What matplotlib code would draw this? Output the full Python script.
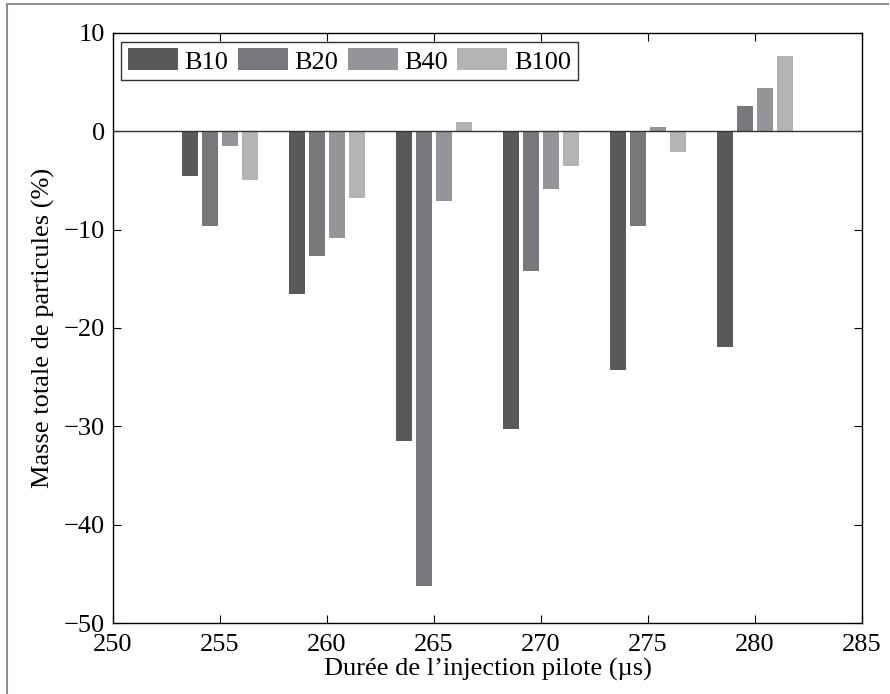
import matplotlib
matplotlib.use('Agg')
import matplotlib.pyplot as plt
import numpy as np

# Données
durees = [255, 260, 265, 270, 275, 280]
series = ['B10', 'B20', 'B40', 'B100']
b10 = [-4.5, -16.5, -31.5, -30.3, -24.3, -21.9]
b20 = [-9.6, -12.7, -46.2, -14.2, -9.6, 2.6]
b40 = [-1.5, -10.8, -7.1, -5.9, 0.4, 4.4]
b100 = [-5.0, -6.8, 0.9, -3.5, -2.1, 7.7]
couleurs = ['#58595b', '#77787b', '#949598', '#b3b4b6']

plt.rcParams['font.family'] = ['Liberation Serif', 'DejaVu Serif']

fig = plt.figure(figsize=(8.9, 6.94), dpi=100)
ax = fig.add_axes([113 / 890, 1 - 623 / 694, (862 - 113) / 890, (623 - 33) / 694])

# cadre gris autour de la figure
fig.add_artist(plt.Line2D([7 / 890, 7 / 890], [0, 1 - 4 / 694], transform=fig.transFigure,
                          color='#909090', lw=1.5))
fig.add_artist(plt.Line2D([7 / 890, 888 / 890], [1 - 4 / 694, 1 - 4 / 694], transform=fig.transFigure,
                          color='#909090', lw=1.5))

x = np.array(durees, dtype=float)
pas = 0.92
largeur = 0.75
for i, (nom, vals) in enumerate(zip(series, [b10, b20, b40, b100])):
    ax.bar(x + (i - 1.5) * pas, vals, largeur, color=couleurs[i], label=nom, linewidth=0)

ax.axhline(0, color='#333333', lw=1.0, zorder=3)

ax.set_xlim(250, 285)
ax.set_ylim(-50, 10)
ax.set_xticks(np.arange(250, 286, 5))
ax.set_yticks(np.arange(-50, 11, 10))
ax.set_yticklabels(['\u221250', '\u221240', '\u221230', '\u221220', '\u221210', '0', '10'])
ax.tick_params(direction='in', length=6, width=0.8, top=True, right=True, labelsize=19)
ax.tick_params(axis='x', pad=8)
ax.tick_params(axis='y', pad=6)
for s in ax.spines.values():
    s.set_linewidth(1.0)

ax.set_xlabel('Durée de l\u2019injection pilote (\u00b5s)', fontsize=19, labelpad=1)
ax.set_ylabel('Masse totale de particules (%)', fontsize=19, labelpad=6)

leg = ax.legend(ncol=4, loc='upper left', bbox_to_anchor=(0.011, 0.985), fontsize=19,
                frameon=True, fancybox=False, edgecolor='black', handlelength=1.9,
                handleheight=0.9, columnspacing=0.35, handletextpad=0.25, borderpad=0.25,
                borderaxespad=0)
leg.get_frame().set_linewidth(1.0)

fig.savefig('out.png', dpi=100)
